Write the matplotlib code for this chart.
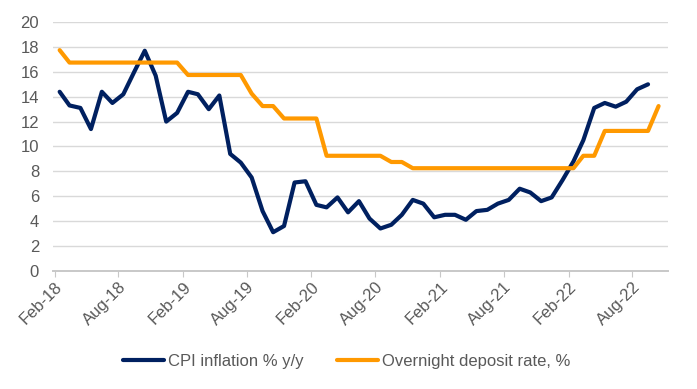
import matplotlib
matplotlib.use("Agg")
import matplotlib.pyplot as plt
import matplotlib.dates as mdates
import pandas as pd

# CPI inflation % y/y, monthly Feb-18 .. Sep-22
cpi = [14.4, 13.3, 13.1, 11.4, 14.4, 13.5, 14.2, 16.0, 17.7, 15.7, 12.0,
       12.7, 14.4, 14.2, 13.0, 14.1, 9.4, 8.7, 7.5, 4.8, 3.1, 3.6, 7.1,
       7.2, 5.3, 5.1, 5.9, 4.7, 5.6, 4.2, 3.4, 3.7, 4.5, 5.7, 5.4,
       4.3, 4.5, 4.5, 4.1, 4.8, 4.9, 5.4, 5.7, 6.6, 6.3, 5.6, 5.9,
       7.3, 8.8, 10.5, 13.1, 13.5, 13.2, 13.6, 14.6, 15.0]

# Overnight deposit rate %, monthly Feb-18 .. Oct-22
rate = [17.75,
        16.75, 16.75, 16.75, 16.75, 16.75, 16.75, 16.75, 16.75, 16.75, 16.75, 16.75,
        15.75, 15.75, 15.75, 15.75, 15.75, 15.75,
        14.25, 13.25, 13.25,
        12.25, 12.25, 12.25, 12.25,
        9.25, 9.25, 9.25, 9.25, 9.25, 9.25,
        8.75, 8.75,
        8.25, 8.25, 8.25, 8.25, 8.25, 8.25, 8.25, 8.25, 8.25, 8.25, 8.25, 8.25,
        8.25, 8.25, 8.25, 8.25,
        9.25, 9.25,
        11.25, 11.25, 11.25, 11.25, 11.25,
        13.25]

cpi_dates = pd.date_range("2018-02-01", periods=len(cpi), freq="MS") + pd.Timedelta(days=14)
rate_dates = pd.date_range("2018-02-01", periods=len(rate), freq="MS") + pd.Timedelta(days=14)
tick_dates = pd.date_range("2018-02-01", "2022-08-01", freq="6MS")

navy = "#002060"
orange = "#FF9900"
grey_txt = "#595959"

plt.rcParams["font.family"] = ["Liberation Sans", "DejaVu Sans"]

fig = plt.figure(figsize=(6.97, 3.89), dpi=100)
ax = fig.add_axes([0.076, 0.304, 0.882, 0.639])

ax.plot(cpi_dates, cpi, color=navy, lw=3.0, label="CPI inflation % y/y",
        solid_capstyle="round", solid_joinstyle="round", zorder=3)
ax.plot(rate_dates, rate, color=orange, lw=3.0, label="Overnight deposit rate, %",
        solid_capstyle="round", solid_joinstyle="round", zorder=3)

ax.set_ylim(0, 20)
ax.set_yticks(range(0, 21, 2))
ax.set_xlim(pd.Timestamp("2018-01-27"), pd.Timestamp("2022-11-10"))
ax.set_xticks(tick_dates)
ax.xaxis.set_major_formatter(mdates.DateFormatter("%b-%y"))

ax.grid(axis="y", color="#d9d9d9", lw=1)
ax.set_axisbelow(True)
for s in ["top", "right", "left"]:
    ax.spines[s].set_visible(False)
ax.spines["bottom"].set_color("#c8c8c8")
ax.spines["bottom"].set_linewidth(1.4)

ax.tick_params(axis="y", length=0, pad=10, labelsize=12, labelcolor=grey_txt)
ax.tick_params(axis="x", length=4, color="#c8c8c8", pad=2, labelsize=12, labelcolor=grey_txt)
for lab in ax.get_xticklabels():
    lab.set_rotation(45)
    lab.set_ha("right")
    lab.set_rotation_mode("anchor")

leg = fig.legend(loc="center", bbox_to_anchor=(0.497, 0.07), ncol=2, frameon=False,
                 fontsize=12, handlelength=2.5, handletextpad=0.2, columnspacing=2.0)
for t in leg.get_texts():
    t.set_color(grey_txt)

fig.savefig("out.png", dpi=100)
